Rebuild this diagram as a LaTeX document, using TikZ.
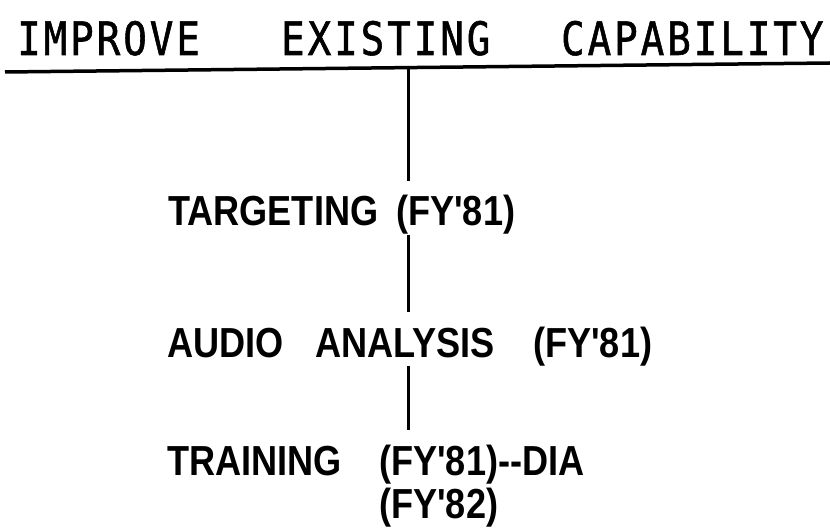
\documentclass[tikz,border=0pt]{standalone}
\usepackage{fontspec}
\newfontfamily\headfont[FakeStretch=0.85,FakeBold=1.2,LetterSpace=6.5]{DejaVu Sans Mono}
\newfontfamily\itemfont[FakeStretch=0.86]{Liberation Sans}
\usetikzlibrary{positioning}
\tikzset{
  head/.style={font=\headfont\fontsize{46}{46}\selectfont, inner sep=0pt, anchor=base west},
  item/.style={font=\itemfont\bfseries\fontsize{42}{43}\selectfont, inner sep=0pt, anchor=base west, align=left},
  link/.style={line width=3pt, shorten <=0pt, shorten >=14pt},
}
\begin{document}
\begin{tikzpicture}[x=1pt,y=-1pt]
\useasboundingbox (0,0) rectangle (830,529);
% heading and its rule
\node[head] (title) at (17,55) {\makebox[264pt][l]{IMPROVE}\makebox[280pt][l]{EXISTING}CAPABILITY};
\coordinate (ruleL) at (5,72);
\coordinate (ruleR) at (830,63);
\coordinate (spine) at (408,67.5);
\draw[line width=3.5pt] (ruleL) -- (ruleR);

% items
\node[item] (target) at (168,226) {\makebox[228pt][l]{TARGETING}(FY'81)};
\node[item] (audio) at (167,357) {\makebox[148pt][l]{AUDIO}\makebox[218pt][l]{ANALYSIS}(FY'81)};
\node[item] (train) at (167,518) {\makebox[212pt][l]{TRAINING}(FY'81)--DIA\\
  \hspace*{212pt}(FY'82)};

% vertical line
\draw[link] (spine) -- (target.north -| spine);
\draw[link] (target.south -| spine) -- (audio.north -| spine);
\draw[link] (audio.south -| spine) -- (train.north -| spine);
\end{tikzpicture}
\end{document}
